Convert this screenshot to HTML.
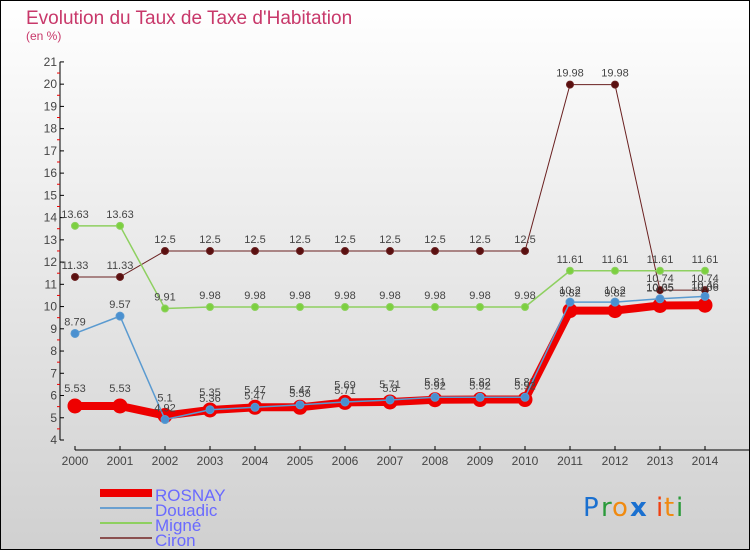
<!DOCTYPE html>
<html><head><meta charset="utf-8"><style>
html,body{margin:0;padding:0}
body{width:750px;height:550px;overflow:hidden;font-family:"Liberation Sans",sans-serif}
</style></head><body>
<svg id="chart" width="750" height="550" xmlns="http://www.w3.org/2000/svg">
<defs><linearGradient id="bg" x1="0" y1="0" x2="0" y2="1"><stop offset="0" stop-color="#ffffff"/><stop offset="1" stop-color="#d0d0d0"/></linearGradient></defs>
<rect x="0.5" y="0.5" width="749" height="549" fill="url(#bg)" stroke="#000"/>
<text x="26" y="24" font-size="19" fill="#c8386a">Evolution du Taux de Taxe d'Habitation</text>
<text x="26" y="40" font-size="12" fill="#c8386a">(en %)</text>
<g id="axes"></g><g id="series"></g>
<g>
<rect x="100" y="489" width="52" height="8" fill="#e00"/>
<line x1="100" y1="508" x2="152" y2="508" stroke="#6aa0d0" stroke-width="2"/>
<line x1="100" y1="523" x2="152" y2="523" stroke="#8ed060" stroke-width="2"/>
<line x1="100" y1="538" x2="152" y2="538" stroke="#8a5050" stroke-width="2"/>
<text x="155" y="501" font-size="17" fill="#6a6aff">ROSNAY</text>
<text x="155" y="516" font-size="17" fill="#6a6aff">Douadic</text>
<text x="155" y="531" font-size="17" fill="#6a6aff">Migné</text>
<text x="155" y="546" font-size="17" fill="#6a6aff">Ciron</text>
</g>
<g font-size="26" font-family="'DejaVu Sans',sans-serif">
<text x="583" y="516" fill="#1a70d0">P</text><text x="601" y="516" fill="#2a9a3a">r</text><text x="612" y="516" fill="#f08a10">o</text><text x="630" y="516" fill="#1a70d0" font-weight="bold">x</text><text x="656" y="516" fill="#f04010">i</text><text x="664" y="516" fill="#f08a10">t</text><text x="676" y="516" fill="#2a9a3a">i</text>
</g>
</svg>
<script>
const years=[2000,2001,2002,2003,2004,2005,2006,2007,2008,2009,2010,2011,2012,2013,2014];
const rosnay=[5.53,5.53,5.1,5.35,5.47,5.47,5.69,5.71,5.81,5.82,5.82,9.82,9.82,10.05,10.06];
const douadic=[8.79,9.57,4.92,5.36,5.47,5.58,5.71,5.8,5.92,5.92,5.92,10.2,10.2,10.35,10.46];
const migne=[13.63,13.63,9.91,9.98,9.98,9.98,9.98,9.98,9.98,9.98,9.98,11.61,11.61,11.61,11.61];
const ciron=[11.33,11.33,12.5,12.5,12.5,12.5,12.5,12.5,12.5,12.5,12.5,19.98,19.98,10.74,10.74];
const yTicks=[4,5,6,7,8,9,10,11,12,13,14,15,16,17,18,19,20,21];
const NS="http://www.w3.org/2000/svg";
const X=v=>75+(v-2000)*45;
const Y=v=>440-(v-4)*22.24;
function mk(tag,attrs,parent,txt){const e=document.createElementNS(NS,tag);for(const k in attrs)e.setAttribute(k,attrs[k]);if(txt!==undefined)e.textContent=txt;parent.appendChild(e);return e;}
const ax=document.getElementById('axes');
let e=mk('line',{x1:60,y1:Y(21),x2:60,y2:Y(4),stroke:'#000'},ax);


e=mk('line',{x1:75,y1:450,x2:750,y2:450,stroke:'#000'},ax);


yTicks.forEach(t=>{
  mk('line',{x1:60,y1:Y(t),x2:64,y2:Y(t),stroke:'#000'},ax);
  if(t<21)mk('line',{x1:57,y1:Y(t+0.5),x2:60,y2:Y(t+0.5),stroke:'#e00'},ax);
  const l=mk('text',{x:57,y:Y(t)+4,'font-size':12,'text-anchor':'end',fill:'#444'},ax,String(t));
  
  
});
years.forEach(y=>{
  mk('line',{x1:X(y),y1:446,x2:X(y),y2:450,stroke:'#000'},ax);
  const l=mk('text',{x:X(y),y:465,'font-size':12,'text-anchor':'middle',fill:'#444'},ax,String(y));
  
  
});
const sg=document.getElementById('series');
function series(name,vals,color,w,r,fill,lblOff){
  const g=mk('g',{},sg);
  
  
  mk('polyline',{points:vals.map((v,i)=>X(years[i])+','+Y(v)).join(' '),fill:'none',stroke:color,'stroke-width':w,'stroke-linejoin':'round'},g);
  vals.forEach((v,i)=>{
    const c=mk('circle',{cx:X(years[i]),cy:Y(v),r:r,fill:fill,stroke:color,'stroke-width':1},g);
    
    
    const t=mk('text',{x:X(years[i]),y:Y(v)-lblOff,'font-size':11,'text-anchor':'middle',fill:'#444'},g,String(v));
    
    
  });
}
series('ciron',ciron,'#6a2020',1,3.5,'#5a1010',8);
series('migne',migne,'#8ed060',1.5,3.5,'#7cd040',8);
series('rosnay',rosnay,'#ee0000',8,7,'#ee0000',14);
series('douadic',douadic,'#5a9ad0',1.5,4,'#4a90d0',8);
</script>
</body></html>
